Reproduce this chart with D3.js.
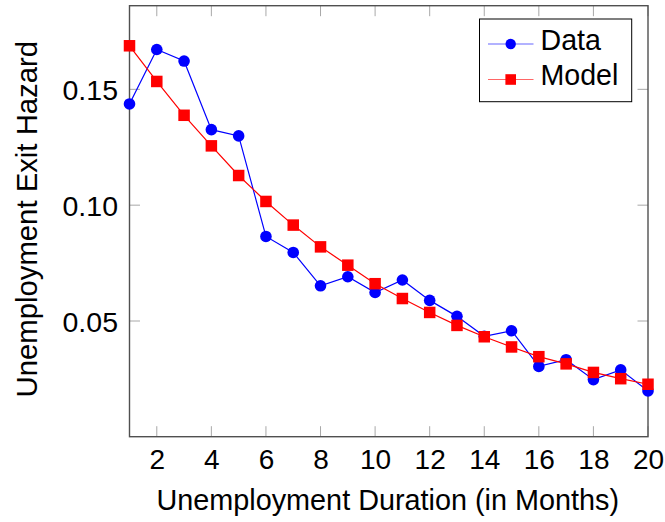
<!DOCTYPE html>
<html>
<head>
<meta charset="utf-8">
<script src="https://cdn.jsdelivr.net/npm/d3@7"></script>
<style>
  html, body { margin: 0; padding: 0; background: #fff; }
  svg { display: block; }
  text { font-family: "Liberation Sans", Arial, Helvetica, sans-serif; fill: #000; }
</style>
</head>
<body>
<svg id="chart" width="665" height="522"></svg>
<script>
// Unemployment duration in months
const months = [1, 2, 3, 4, 5, 6, 7, 8, 9, 10, 11, 12, 13, 14, 15, 16, 17, 18, 19, 20];

// Observed exit hazard
const dataHazard = [0.1437, 0.1672, 0.1622, 0.1326, 0.1299, 0.0865, 0.0796, 0.0652, 0.0691, 0.0623,
                    0.0677, 0.0589, 0.0520, 0.0434, 0.0458, 0.0304, 0.0333, 0.0247, 0.0289, 0.0198];

// Model-implied exit hazard
const modelHazard = [0.1688, 0.1534, 0.1388, 0.1256, 0.1128, 0.1016, 0.0914, 0.0820, 0.0741, 0.0661,
                     0.0597, 0.0537, 0.0481, 0.0432, 0.0388, 0.0346, 0.0315, 0.0278, 0.0251, 0.0227];

const xTicks = [2, 4, 6, 8, 10, 12, 14, 16, 18, 20];
const yTicks = [0.05, 0.10, 0.15];

const seriesNames = ["Data", "Model"];
const seriesColors = ["#0000ff", "#ff0000"];

const svg = d3.select("#chart");
const pLeft = 129.5, pRight = 648, pTop = 5.7, pBottom = 436.7;

const x = d3.scaleLinear().domain([1, 20]).range([pLeft, pRight]);
const y = d3.scaleLinear().domain([0.00006, 0.1861]).range([pBottom, pTop]);

const tickLen = 10.5;
const tickColor = "#a8a8a8";

// Tick marks (inward, mirrored on opposite sides)
const tickG = svg.append("g");
xTicks.forEach(t => {
  tickG.append("line").attr("x1", x(t)).attr("x2", x(t)).attr("y1", pBottom).attr("y2", pBottom - tickLen)
    .attr("stroke", tickColor).attr("stroke-width", 1);
  tickG.append("line").attr("x1", x(t)).attr("x2", x(t)).attr("y1", pTop).attr("y2", pTop + tickLen)
    .attr("stroke", tickColor).attr("stroke-width", 1);
});
yTicks.forEach(t => {
  tickG.append("line").attr("x1", pLeft).attr("x2", pLeft + tickLen).attr("y1", y(t)).attr("y2", y(t))
    .attr("stroke", tickColor).attr("stroke-width", 1);
  tickG.append("line").attr("x1", pRight).attr("x2", pRight - tickLen).attr("y1", y(t)).attr("y2", y(t))
    .attr("stroke", tickColor).attr("stroke-width", 1);
});

// Frame
svg.append("rect")
  .attr("x", pLeft).attr("y", pTop).attr("width", pRight - pLeft).attr("height", pBottom - pTop)
  .attr("fill", "none").attr("stroke", "#505050").attr("stroke-width", 1.4);

// Tick labels via d3 axes (axis lines hidden; tick marks drawn above)
const xAxis = svg.append("g").attr("transform", `translate(0,${pBottom})`)
  .call(d3.axisBottom(x).tickValues(xTicks).tickSize(0).tickFormat(d3.format("d")));
xAxis.select(".domain").remove();
xAxis.selectAll("text").attr("font-size", 28).attr("dy", null).attr("y", 32.3).attr("fill", "#000")
  .style("font-family", "'Liberation Sans', Arial, sans-serif");

const yAxis = svg.append("g").attr("transform", `translate(${pLeft},0)`)
  .call(d3.axisLeft(y).tickValues(yTicks).tickSize(0).tickFormat(d3.format(".2f")));
yAxis.select(".domain").remove();
yAxis.selectAll("text").attr("font-size", 28.5).attr("x", -11.5).attr("dy", "0.36em").attr("fill", "#000")
  .style("font-family", "'Liberation Sans', Arial, sans-serif");

// Axis titles
svg.append("text")
  .attr("x", (pLeft + pRight) / 2 - 1).attr("y", 509.5)
  .attr("text-anchor", "middle").attr("font-size", 28.8)
  .text("Unemployment Duration (in Months)");

svg.append("text")
  .attr("transform", `translate(36.5,${(pTop + pBottom) / 2 - 2}) rotate(-90)`)
  .attr("text-anchor", "middle").attr("font-size", 29.3)
  .text("Unemployment Exit Hazard");

// Series
const line = d3.line().x(d => x(d[0])).y(d => y(d[1]));
const dataPts = months.map((m, i) => [m, dataHazard[i]]);
const modelPts = months.map((m, i) => [m, modelHazard[i]]);

const r = 5.8, sq = 11.5;

svg.append("path").datum(dataPts).attr("d", line)
  .attr("fill", "none").attr("stroke", seriesColors[0]).attr("stroke-width", 1.2);
svg.append("g").selectAll("circle").data(dataPts).join("circle")
  .attr("cx", d => x(d[0])).attr("cy", d => y(d[1])).attr("r", r)
  .attr("fill", seriesColors[0]);

svg.append("path").datum(modelPts).attr("d", line)
  .attr("fill", "none").attr("stroke", seriesColors[1]).attr("stroke-width", 1.2);
svg.append("g").selectAll("rect").data(modelPts).join("rect")
  .attr("x", d => x(d[0]) - sq / 2).attr("y", d => y(d[1]) - sq / 2)
  .attr("width", sq).attr("height", sq)
  .attr("fill", seriesColors[1]);

// Legend
const lg = svg.append("g");
lg.append("rect").attr("x", 479.5).attr("y", 19).attr("width", 152.2).attr("height", 82.7)
  .attr("fill", "#fff").attr("stroke", "#000").attr("stroke-width", 1);
const rows = [44, 79.5];
seriesNames.forEach((name, i) => {
  const cy = rows[i];
  lg.append("line").attr("x1", 488).attr("x2", 533.5).attr("y1", cy).attr("y2", cy)
    .attr("stroke", seriesColors[i]).attr("stroke-width", 1.2).attr("stroke-opacity", 0.6);
  if (i === 0) {
    lg.append("circle").attr("cx", 510.7).attr("cy", cy).attr("r", 5.2).attr("fill", seriesColors[i]);
  } else {
    lg.append("rect").attr("x", 510.7 - 5.3).attr("y", cy - 5.3).attr("width", 10.6).attr("height", 10.6)
      .attr("fill", seriesColors[i]);
  }
  lg.append("text").attr("x", 540.5).attr("y", cy + 5.8)
    .attr("font-size", 28.6).text(name);
});
</script>
</body>
</html>
